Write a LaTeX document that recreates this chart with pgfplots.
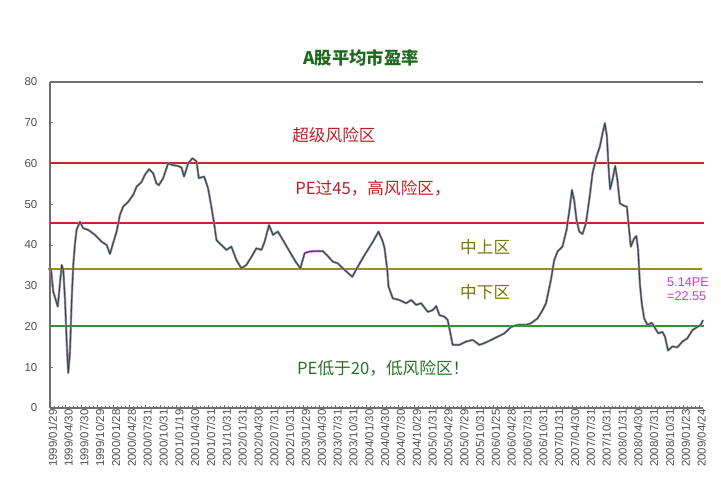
\documentclass[border=0pt]{standalone}
\usepackage{pgfplots}
\pgfplotsset{compat=1.18}
\usepackage{fontspec}
\setmainfont{Liberation Sans}
\newfontfamily\cjk{Noto Sans CJK SC}

\definecolor{axisgray}{RGB}{110,110,110}
\definecolor{labelgray}{RGB}{80,80,80}
\definecolor{titlegreen}{RGB}{30,105,30}
\definecolor{riskred}{RGB}{190,30,40}
\definecolor{linered}{RGB}{195,40,40}
\definecolor{oliveline}{RGB}{150,145,30}
\definecolor{olivetext}{RGB}{120,120,0}
\definecolor{greenline}{RGB}{60,140,60}
\definecolor{greentext}{RGB}{40,115,40}
\definecolor{pecurve}{RGB}{25,95,25}
\definecolor{pehalo}{RGB}{175,120,205}
\definecolor{pelabel}{RGB}{200,60,200}

% x = quarter index (0 = 1999/01/29, 41 = 2009/04/24), y = average P/E
\pgfplotstableread{
x y
0.06 34.3
0.15 30.6
0.21 28.5
0.49 24.9
0.74 35.1
0.84 33.9
0.95 26.5
1.05 16.7
1.15 8.6
1.26 13.5
1.37 26.5
1.47 35.1
1.58 40.4
1.68 43.7
1.89 45.7
2.10 44.1
2.42 43.7
2.84 42.5
3.26 40.8
3.58 40.0
3.79 37.8
3.99 40.5
4.21 43.3
4.42 47.4
4.62 49.4
4.94 50.6
5.26 52.3
5.47 54.3
5.79 55.5
5.99 57.2
6.26 58.6
6.52 57.6
6.73 55.1
6.88 54.7
7.15 56.4
7.46 60.0
7.78 59.6
8.09 59.4
8.31 59.0
8.47 56.8
8.73 60.0
9.00 61.3
9.26 60.5
9.40 56.4
9.74 56.8
9.99 53.9
10.16 50.2
10.37 45.3
10.52 41.2
10.83 40.0
11.15 38.8
11.46 39.6
11.78 36.3
12.09 34.3
12.41 35.1
12.73 37.1
13.04 39.2
13.36 38.8
13.56 40.8
13.84 44.9
14.09 42.5
14.40 43.3
14.72 41.2
15.14 38.4
15.52 35.9
15.82 34.3
16.09 38.0
16.40 38.4
16.83 38.5
17.24 38.5
17.50 37.5
17.87 35.9
18.19 35.5
18.50 34.3
19.10 32.2
19.45 34.7
19.87 37.5
20.40 40.8
20.76 43.3
21.03 40.8
21.14 39.2
21.31 33.9
21.39 29.8
21.66 26.9
22.08 26.5
22.50 25.7
22.82 26.5
23.14 25.3
23.45 25.7
23.87 23.6
24.18 24.0
24.40 25.0
24.61 22.8
24.92 22.4
25.13 21.6
25.30 18.3
25.44 15.5
25.87 15.5
26.29 16.3
26.71 16.7
27.13 15.5
27.44 15.9
27.87 16.7
28.28 17.5
28.71 18.3
29.13 19.9
29.55 20.4
30.08 20.4
30.39 20.8
30.81 22.0
31.12 24.0
31.34 25.7
31.65 31.4
31.86 36.3
32.07 38.4
32.38 39.6
32.64 43.7
32.85 49.4
32.98 53.5
33.12 51.0
33.27 46.1
33.44 43.3
33.65 42.7
33.86 45.3
34.07 51.0
34.28 57.6
34.53 61.7
34.74 64.1
34.91 67.4
35.06 69.9
35.19 66.6
35.29 59.2
35.39 53.7
35.54 56.0
35.71 59.4
35.85 56.0
36.01 50.2
36.28 49.6
36.45 49.4
36.55 45.3
36.70 39.6
36.91 41.6
37.05 42.2
37.16 38.8
37.27 30.6
37.39 25.7
37.54 22.0
37.75 20.4
38.03 20.9
38.23 19.6
38.44 18.3
38.69 18.7
38.86 17.5
39.05 14.1
39.32 15.1
39.64 14.9
39.96 16.3
40.27 17.1
40.59 19.1
40.90 19.9
41.12 20.4
41.26 21.6
}\petable

\begin{document}
\begin{tikzpicture}[x=0.75pt,y=0.75pt]
\begin{axis}[
  scale only axis, width=489.75pt, height=244.5pt,
  xmin=0, xmax=41.26, ymin=0, ymax=80,
  axis x line=bottom, axis y line=left,
  axis line style={-, draw=axisgray, line width=0.9pt},
  xtick={0,...,41},
  xticklabels={1999/01/29,1999/04/30,1999/07/30,1999/10/29,2000/01/28,2000/04/28,2000/07/31,2000/10/31,2001/01/19,2001/04/30,2001/07/31,2001/10/31,2002/01/31,2002/04/30,2002/07/31,2002/10/31,2003/01/29,2003/04/30,2003/07/31,2003/10/31,2004/01/30,2004/04/30,2004/07/30,2004/10/29,2005/01/31,2005/04/29,2005/07/29,2005/10/31,2006/01/25,2006/04/28,2006/07/31,2006/10/31,2007/01/31,2007/04/30,2007/07/31,2007/10/31,2008/01/31,2008/04/30,2008/07/31,2008/10/31,2009/01/23,2009/04/24},
  minor x tick num=3,
  ytick={0,10,...,80},
  tick align=inside,
  major tick length=2.5pt, minor tick length=1.8pt,
  tick style={draw=axisgray, line width=0.5pt},
  /pgf/number format/assume math mode=true,
  xticklabel style={rotate=90, anchor=east, yshift=-2pt, inner sep=1pt, font=\fontsize{8.6}{9}\selectfont, text=labelgray},
  yticklabel style={font=\fontsize{8.6}{9}\selectfont, text=labelgray, xshift=-6pt},
  clip=false,
]
\coordinate (O) at (rel axis cs:0,0);
\draw[axisgray, line width=0.9pt] (rel axis cs:0,1) -- (rel axis cs:1,1);

\addplot[linered, line width=1.6pt] coordinates {(0,60.1) (41.35,60.1)};
\addplot[linered, line width=1.6pt] coordinates {(0,45.5) (41.35,45.5)};
\addplot[oliveline, line width=1.6pt] coordinates {(-0.1,34.2) (41.2,34.2)};
\addplot[greenline, line width=1.6pt] coordinates {(0,20.1) (41.3,20.1)};

% purple halo under the dark green P/E line
\addplot[pehalo, line width=1.7pt, line join=round, forget plot] table[x=x, y=y] {\petable};
\addplot[pecurve, line width=0.7pt, line join=round] table[x=x, y=y] {\petable};

\node[anchor=west, inner sep=0, font=\cjk\fontsize{12.5}{13}\selectfont, text=riskred] at (axis cs:15.29,67.0) {超级风险区};
\node[anchor=west, inner sep=0, font=\cjk\fontsize{12.5}{13}\selectfont, text=riskred] at (axis cs:15.48,54.0) {PE过45，高风险区，};
\node[anchor=west, inner sep=0, font=\cjk\fontsize{12.5}{13}\selectfont, text=olivetext] at (axis cs:25.90,39.5) {中上区};
\node[anchor=west, inner sep=0, font=\cjk\fontsize{12.5}{13}\selectfont, text=olivetext] at (axis cs:25.90,28.5) {中下区};
\node[anchor=west, inner sep=0, font=\cjk\fontsize{12.5}{13}\selectfont, text=greentext] at (axis cs:15.60,9.8) {PE低于20，低风险区！};
\node[anchor=west, inner sep=0, align=left, font=\fontsize{9.5}{10.5}\selectfont, text=pelabel] at (axis cs:38.98,29.2) {5.14PE\\=22.55};
\end{axis}
\node[font=\cjk\bfseries\fontsize{13}{13}\selectfont, text=titlegreen] at ([shift={(311,350)}]O) {A股平均市盈率};
\path ([shift={(-50,-74)}]O) rectangle ([shift={(671,408)}]O);
\end{tikzpicture}
\end{document}
